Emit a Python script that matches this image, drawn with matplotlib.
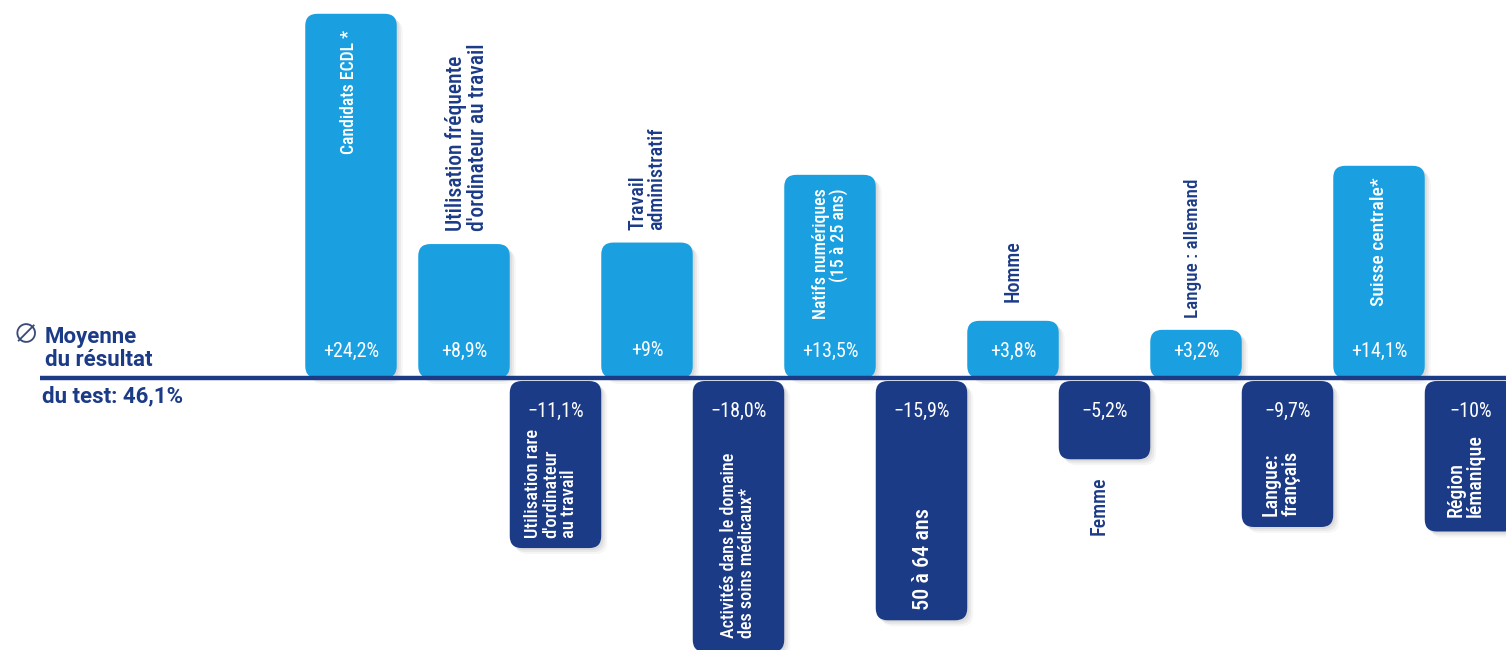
import matplotlib
matplotlib.use("Agg")
import matplotlib.pyplot as plt
from matplotlib.patches import FancyBboxPatch
from matplotlib.lines import Line2D
from matplotlib import font_manager

avail = {f.name for f in font_manager.fontManager.ttflist}
base_fams = [f for f in ['Roboto Condensed', 'Liberation Sans Narrow', 'Roboto'] if f in avail]
plt.rcParams['font.family'] = base_fams + ['DejaVu Sans']

# ---- data ----
categories = [
    "Candidats ECDL *",
    "Utilisation fréquente\nd'ordinateur au travail",
    "Utilisation rare\nd'ordinateur\nau travail",
    "Travail\nadministratif",
    "Activités dans le domaine\ndes soins médicaux*",
    "Natifs numériques\n(15 à 25 ans)",
    "50 à 64 ans",
    "Homme",
    "Femme",
    "Langue : allemand",
    "Langue:\nfrançais",
    "Suisse centrale*",
    "Région\nlémanique",
]
values = [24.2, 8.9, -11.1, 9.0, -18.0, 13.5, -15.9, 3.8, -5.2, 3.2, -9.7, 14.1, -10.0]
value_labels = ["+24,2%", "+8,9%", "\u221211,1%", "+9%", "\u221218,0%", "+13,5%",
                "\u221215,9%", "+3,8%", "\u22125,2%", "+3,2%", "\u22129,7%", "+14,1%", "\u221210%"]
positions = [-1.235, 0, 1, 2, 3, 4, 5, 6, 7, 8, 9, 10, 11]
mean_lines = ["Moyenne", "du résultat", "du test: 46,1%"]

LIGHT = "#1AA0E1"
NAVY = "#1C3B87"

W, H = 1506, 650
fig = plt.figure(figsize=(W / 100, H / 100), dpi=100)
ax = fig.add_axes([0, 0, 1, 1])
ax.set_axis_off()

px_x = 91.5   # px per x unit
px_y = 15.05  # px per % unit
x0_px = 464   # pixel of x=0
base_px = 378 # pixel of y=0 (from top)
ax.set_xlim(-x0_px / px_x, (W - x0_px) / px_x)
ax.set_ylim(-(H - base_px) / px_y, base_px / px_y)

bw = 1.0
rad_px = 12
r = rad_px / px_x
aspect = px_x / px_y
gap = 0.2

for p, v, vl in zip(positions, values, value_labels):
    up = v > 0
    color = LIGHT if up else NAVY
    y0 = 0 if up else v - gap
    h = abs(v)
    for k, a in [(6, 0.035), (4, 0.05), (2, 0.06)]:
        sh = FancyBboxPatch((p - bw / 2 + k / px_x, y0 - k / px_y), bw, h,
                            boxstyle=f"round,pad=0,rounding_size={r}",
                            mutation_aspect=aspect, fc="black", ec="none",
                            alpha=a, zorder=1)
        ax.add_patch(sh)
    box = FancyBboxPatch((p - bw / 2, y0), bw, h,
                         boxstyle=f"round,pad=0,rounding_size={r}",
                         mutation_aspect=aspect, fc=color, ec="none", zorder=2)
    ax.add_patch(box)
    if up:
        ax.text(p, 1.8, vl, color="white", fontsize=14.5, ha="center", va="center", zorder=4)
    else:
        ax.text(p, -2.2, vl, color="white", fontsize=14.5, ha="center", va="center", zorder=4)

def lab(p, y, text, color, va, malign, dx=0.0, fs=13):
    ax.text(p + dx, y, text, rotation=90, color=color, fontsize=fs, ha="center", va=va,
            multialignment=malign, zorder=4, linespacing=1.0, fontweight="medium")

ylab = lambda pix: (base_px - pix) / px_y

lab(positions[0], ylab(30), categories[0], "white", "top", "right", dx=-0.02, fs=12.8)
lab(positions[1], ylab(231), categories[1], NAVY, "bottom", "left", dx=0.03, fs=15.5)
lab(positions[2], ylab(538), categories[2], "white", "bottom", "left", dx=-0.05, fs=13.3)
lab(positions[3], ylab(230), categories[3], NAVY, "bottom", "left", dx=0.0, fs=14.5)
lab(positions[4], ylab(638), categories[4], "white", "bottom", "left", dx=0.0, fs=13)
lab(positions[5], ylab(188), categories[5], "white", "top", "right", dx=0.0, fs=12.9)
lab(positions[6], ylab(610), categories[6], "white", "bottom", "left", dx=0.02, fs=16)
lab(positions[7], ylab(302), categories[7], NAVY, "bottom", "left", dx=0.0, fs=14.5)
lab(positions[8], ylab(535), categories[8], NAVY, "bottom", "left", dx=-0.06, fs=14.5)
lab(positions[9], ylab(318), categories[9], NAVY, "bottom", "left", dx=-0.03, fs=13.8)
lab(positions[10], ylab(516), categories[10], "white", "bottom", "left", dx=-0.07, fs=14.5)
lab(positions[11], ylab(177), categories[11], "white", "top", "right", dx=0.0, fs=14)
lab(positions[12], ylab(517), categories[12], "white", "bottom", "left", dx=-0.05, fs=14.4)

# baseline
ax.add_line(Line2D([40 / W, 1.0], [1 - base_px / H] * 2, transform=ax.transAxes,
                   color=NAVY, lw=3.2, zorder=3, solid_capstyle="butt"))

# left annotation
ann_fam = [f for f in ['Roboto'] if f in avail] + ['DejaVu Sans']
ax.text(13 / W, 1 - 336 / H, "\u2205", transform=ax.transAxes, fontsize=19,
        color="#3A4A7A", ha="left", va="center",
        family=['Noto Sans CJK JP', 'Noto Sans', 'DejaVu Sans'])
for txt, xp, yb in zip(mean_lines, [45, 45, 42], [343, 366, 402]):
    ax.text(xp / W, 1 - yb / H, txt, transform=ax.transAxes, fontsize=16,
            color=NAVY, ha="left", va="baseline", fontweight="bold", family=ann_fam)

fig.savefig("out.png", dpi=100)
